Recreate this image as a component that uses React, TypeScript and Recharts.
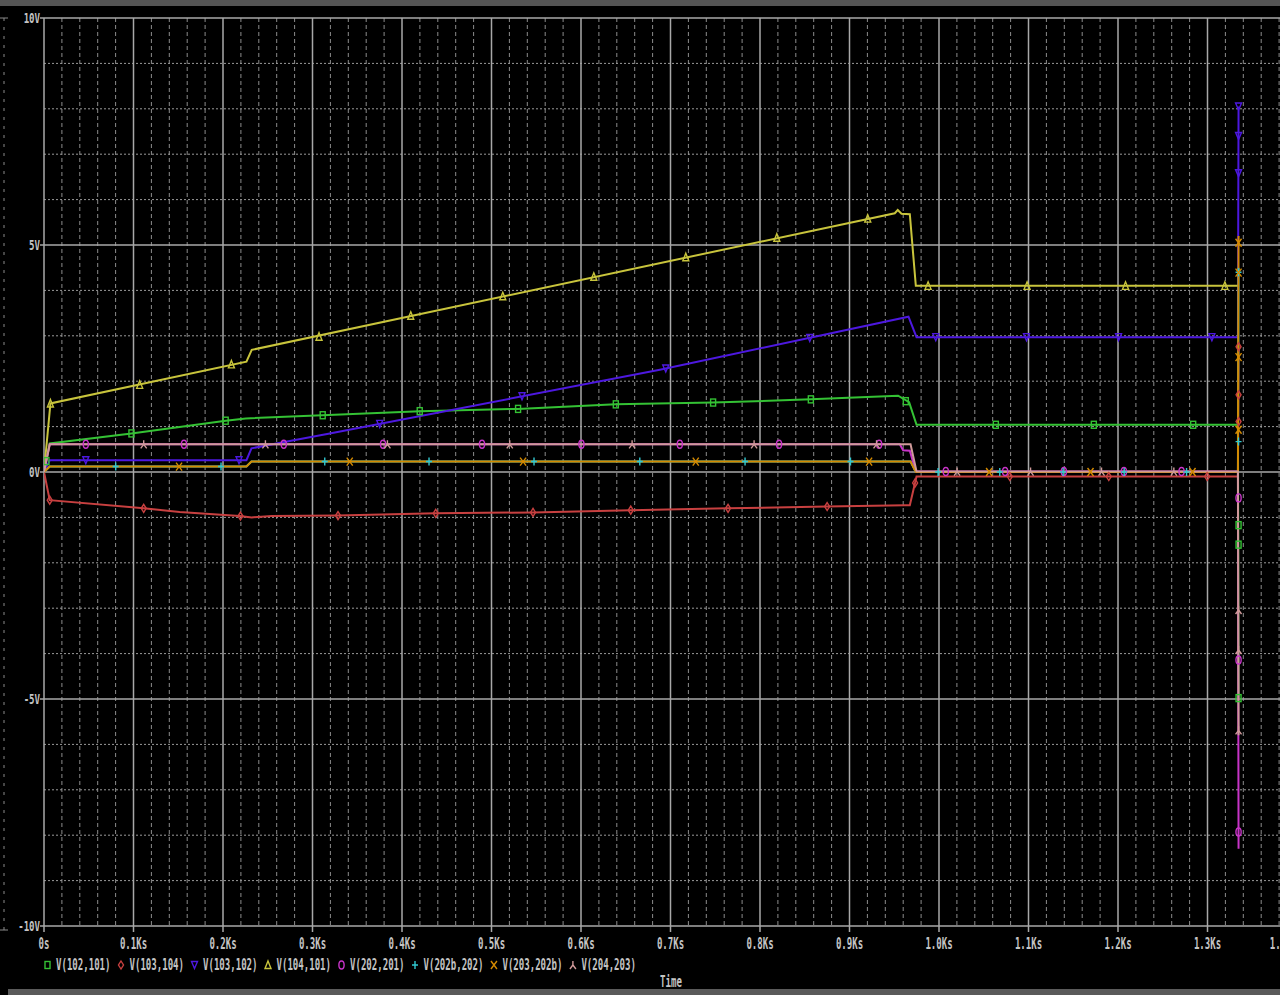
import React from 'react';
import { ComposedChart, Line, Scatter, XAxis, YAxis, CartesianGrid } from 'recharts';

type Pt = [number, number];

// time in seconds, voltage in volts
const v102_101: Pt[] = [[0, 0], [6.4, 0.63], [97.7, 0.85], [203.0, 1.13], [225.4, 1.18], [324.8, 1.26], [419.8, 1.34], [529.3, 1.39], [638.9, 1.49], [747.2, 1.53], [856.8, 1.6], [954.3, 1.68], [966.6, 1.54], [974.9, 1.04], [1334.0, 1.04], [1334.7, -5.0]];
const m102_101: Pt[] = [[2.7, 0.24], [97.7, 0.85], [203.0, 1.13], [311.4, 1.25], [419.8, 1.34], [529.7, 1.39], [638.9, 1.49], [747.6, 1.53], [856.8, 1.6], [962.9, 1.56], [1063.5, 1.04], [1173.0, 1.04], [1284.0, 1.04], [1334.7, -1.17], [1334.7, -1.6], [1334.7, -4.98]];

const v103_104: Pt[] = [[0, 0], [6.4, -0.62], [111.4, -0.8], [151.6, -0.88], [218.7, -0.97], [232.1, -1.0], [254.5, -0.97], [328.2, -0.96], [437.7, -0.91], [546.1, -0.89], [655.6, -0.84], [764.0, -0.8], [874.6, -0.76], [961.8, -0.73], [967.4, -0.73], [974.9, -0.1], [1334.0, -0.1], [1334.7, 2.8]];
const m103_104: Pt[] = [[6.4, -0.62], [111.4, -0.8], [219.5, -0.97], [328.5, -0.96], [437.7, -0.91], [546.4, -0.89], [655.6, -0.84], [764.3, -0.8], [875.0, -0.76], [973.3, -0.24], [1079.1, -0.1], [1189.7, -0.1], [1299.6, -0.1], [1334.7, 2.76], [1334.7, 1.7], [1334.7, 1.11]];

const v103_102: Pt[] = [[0, 0], [6.4, 0.26], [226.2, 0.26], [231.8, 0.52], [259.7, 0.63], [319.3, 0.85], [688.1, 2.25], [965.9, 3.42], [974.9, 2.97], [1334.0, 2.97], [1334.7, 8.05]];
const m103_102: Pt[] = [[46.7, 0.26], [217.9, 0.26], [375.1, 1.06], [534.1, 1.67], [694.7, 2.28], [855.6, 2.95], [996.4, 2.97], [1097.8, 2.97], [1200.6, 2.97], [1304.9, 2.97], [1334.7, 8.05], [1334.7, 7.4], [1334.7, 6.58]];

const v104_101: Pt[] = [[0, 0], [7.2, 1.51], [226.2, 2.43], [232.1, 2.69], [950.6, 5.7], [953.9, 5.77], [958.1, 5.69], [967.4, 5.68], [974.1, 4.1], [1334.7, 4.1]];
const m104_101: Pt[] = [[7.2, 1.51], [106.9, 1.92], [209.4, 2.37], [307.3, 2.98], [409.8, 3.44], [512.6, 3.87], [614.3, 4.3], [717.1, 4.73], [818.8, 5.16], [920.4, 5.58], [987.8, 4.1], [1098.4, 4.1], [1208.4, 4.1], [1319.4, 4.1]];

const v202_201: Pt[] = [[0, 0], [6.4, 0.61], [956.2, 0.61], [959.9, 0.48], [967.4, 0.47], [974.1, 0.01], [1334.0, 0.01], [1334.7, -8.3]];
const m202_201: Pt[] = [[46.7, 0.61], [156.4, 0.61], [267.9, 0.61], [378.8, 0.61], [489.4, 0.61], [600.5, 0.61], [710.4, 0.61], [821.3, 0.61], [933.1, 0.61], [1007.6, 0.01], [1073.9, 0.01], [1139.5, 0.01], [1206.6, 0.01], [1271.0, 0.01], [1334.7, -0.57], [1334.7, -4.14], [1334.7, -7.93]];

const v202b_202: Pt[] = [[0, 0], [6.4, 0.12], [226.2, 0.12], [231.8, 0.23], [968.2, 0.23], [974.1, 0.0], [1334.0, 0.0], [1334.7, 4.5]];
const m202b_202: Pt[] = [[80.1, 0.12], [197.8, 0.12], [313.7, 0.23], [430.2, 0.23], [547.5, 0.23], [665.7, 0.23], [783.3, 0.23], [901.1, 0.23], [999.0, 0.0], [1067.9, 0.0], [1138.7, 0.0], [1206.9, 0.0], [1276.6, 0.0], [1334.7, 4.4], [1334.7, 0.67]];

const v203_202b: Pt[] = [[0, 0], [6.4, 0.12], [226.2, 0.12], [231.8, 0.23], [968.2, 0.23], [974.1, 0.0], [1334.0, 0.0], [1334.7, 5.2]];
const m203_202b: Pt[] = [[150.9, 0.12], [341.6, 0.23], [535.3, 0.23], [728.2, 0.23], [921.9, 0.23], [1056.0, 0.0], [1169.3, 0.0], [1283.3, 0.0], [1334.7, 5.05], [1334.7, 4.39], [1334.7, 2.53], [1334.7, 0.93]];

const v204_203: Pt[] = [[0, 0], [6.4, 0.61], [968.2, 0.61], [974.9, 0.01], [1334.0, 0.01], [1334.7, -5.8]];
const m204_203: Pt[] = [[111.4, 0.61], [247.4, 0.61], [383.7, 0.61], [520.4, 0.61], [657.1, 0.61], [793.4, 0.61], [930.2, 0.61], [1020.2, 0.01], [1102.3, 0.01], [1181.6, 0.01], [1262.4, 0.01], [1334.7, -3.04], [1334.7, -3.92], [1334.7, -5.69]];

const xTicks = [0, 100, 200, 300, 400, 500, 600, 700, 800, 900, 1000, 1100, 1200, 1300, 1400];
const xLabels = ['0s', '0.1Ks', '0.2Ks', '0.3Ks', '0.4Ks', '0.5Ks', '0.6Ks', '0.7Ks', '0.8Ks', '0.9Ks', '1.0Ks', '1.1Ks', '1.2Ks', '1.3Ks', '1.4Ks'];
const yTicks = [-10, -5, 0, 5, 10];
const yLabels = ['-10V', '-5V', '0V', '5V', '10V'];

type Mark = 'square' | 'diamond' | 'down' | 'up' | 'circle' | 'plus' | 'cross' | 'lambda';

const series: { name: string; color: string; line: Pt[]; marks: Pt[]; mark: Mark }[] = [
  { name: 'V(102,101)', color: '#34c234', line: v102_101, marks: m102_101, mark: 'square' },
  { name: 'V(103,104)', color: '#c84040', line: v103_104, marks: m103_104, mark: 'diamond' },
  { name: 'V(103,102)', color: '#4d18e0', line: v103_102, marks: m103_102, mark: 'down' },
  { name: 'V(104,101)', color: '#c8c43c', line: v104_101, marks: m104_101, mark: 'up' },
  { name: 'V(202,201)', color: '#c834c8', line: v202_201, marks: m202_201, mark: 'circle' },
  { name: 'V(202b,202)', color: '#30c8d0', line: v202b_202, marks: m202b_202, mark: 'plus' },
  { name: 'V(203,202b)', color: '#d48a00', line: v203_202b, marks: m203_202b, mark: 'cross' },
  { name: 'V(204,203)', color: '#d09a9a', line: v204_203, marks: m204_203, mark: 'lambda' },
];

const toRows = (pts: Pt[]) => pts.map(([t, v]) => ({ t, v }));

// minor grid every 20s / 1V, major every 100s / 5V
const minorX: number[] = [];
for (let t = 20; t < 1400; t += 20) if (t % 100 !== 0) minorX.push(t);
const minorY: number[] = [];
for (let v = -9; v <= 9; v++) if (v % 5 !== 0) minorY.push(v);

const FONT = "'DejaVu Sans Mono', monospace";
const TXT = '#c4c4c4';
const CW = 5.45; // char width of the narrow plot font

// tall, narrow text: monospace squeezed horizontally
const PText = ({ x, y, size = 15, anchor = 'start', children }: { x: number; y: number; size?: number; anchor?: string; children: string }) => (
  <text transform={`translate(${x},${y}) scale(${(CW / (0.602 * size)).toFixed(3)},1)`} textAnchor={anchor as any}
    fill={TXT} fontFamily={FONT} fontSize={size} fontWeight="bold">{children}</text>
);

function drawMark(kind: Mark, cx: number, cy: number, color: string, key?: string) {
  const p = { stroke: color, strokeWidth: 1.4, fill: 'none' };
  switch (kind) {
    case 'square':
      return <rect key={key} x={cx - 2.5} y={cy - 3.5} width={5} height={7} {...p} />;
    case 'diamond':
      return <polygon key={key} points={`${cx},${cy - 4} ${cx + 2.5},${cy} ${cx},${cy + 4} ${cx - 2.5},${cy}`} {...p} />;
    case 'down':
      return <polygon key={key} points={`${cx - 3},${cy - 3.5} ${cx + 3},${cy - 3.5} ${cx},${cy + 3.5}`} {...p} />;
    case 'up':
      return <polygon key={key} points={`${cx},${cy - 4} ${cx + 3},${cy + 3.5} ${cx - 3},${cy + 3.5}`} {...p} />;
    case 'circle':
      return <ellipse key={key} cx={cx} cy={cy} rx={2.6} ry={4} {...p} />;
    case 'plus':
      return <path key={key} d={`M${cx - 3},${cy}H${cx + 3}M${cx},${cy - 4}V${cy + 4}`} {...p} />;
    case 'cross':
      return <path key={key} d={`M${cx - 3},${cy - 4}L${cx + 3},${cy + 4}M${cx + 3},${cy - 4}L${cx - 3},${cy + 4}`} {...p} />;
    default:
      return <path key={key} d={`M${cx},${cy - 4}V${cy}M${cx},${cy}L${cx - 3},${cy + 4}M${cx},${cy}L${cx + 3},${cy + 4}`} {...p} />;
  }
}

const XTick = (props: any) => {
  const { x, y, payload, index } = props;
  const label = xLabels[xTicks.indexOf(payload.value)] ?? '';
  const last = index === xTicks.length - 1;
  return <PText x={x} y={y + 15} anchor={last ? 'end' : 'middle'}>{label}</PText>;
};

const YTick = (props: any) => {
  const { x, y, payload } = props;
  const label = yLabels[yTicks.indexOf(payload.value)] ?? '';
  return <PText x={x + 2} y={y + 5} size={14} anchor="end">{label}</PText>;
};

const LegendRow = () => {
  let x = 45;
  const items = series.map((s) => {
    const ix = x;
    const tx = x + 11;
    x = tx + s.name.length * CW + 8;
    return (
      <g key={s.name}>
        {drawMark(s.mark, ix + 2.5, 965, s.color)}
        <PText x={tx} y={970}>{s.name}</PText>
      </g>
    );
  });
  return (
    <svg width={1280} height={995} style={{ position: 'absolute', left: 0, top: 0, pointerEvents: 'none' }}>
      <rect x={0} y={0} width={1280} height={6} fill="#555" />
      <rect x={8} y={989} width={1272} height={6} fill="#5a5a5a" />
      <line x1={4} y1={18} x2={4} y2={930} stroke="#8a8a8a" strokeDasharray="3 6" />
      <line x1={0} y1={18} x2={8} y2={18} stroke="#8a8a8a" />
      <line x1={0} y1={930} x2={8} y2={930} stroke="#8a8a8a" />
      {items}
      <PText x={671} y={987} anchor="middle">Time</PText>
    </svg>
  );
};

export default function App() {
  return (
    <div style={{ position: 'absolute', left: 0, top: 0, width: 1280, height: 995, overflow: 'hidden', background: '#000' }}>
      <ComposedChart width={1297} height={995} margin={{ top: 18, right: 0, bottom: 0, left: 0 }}>
        <CartesianGrid horizontal={false} verticalValues={minorX} stroke="#8c8c8c" strokeDasharray="4 3" />
        <CartesianGrid vertical={false} horizontalValues={minorY} stroke="#9a9a9a" strokeDasharray="2 2" />
        <CartesianGrid verticalValues={xTicks} horizontalValues={yTicks} stroke="#a8a8a8" strokeWidth={1.5} />
        <XAxis type="number" dataKey="t" domain={[0, 1400]} ticks={xTicks} allowDataOverflow height={69}
          axisLine={false} tickSize={6} tickLine={{ stroke: '#a8a8a8', strokeWidth: 1.5 }} tick={<XTick />} interval={0} />
        <YAxis type="number" dataKey="v" domain={[-10, 10]} ticks={yTicks} allowDataOverflow width={44}
          axisLine={false} tickSize={4} tickLine={{ stroke: '#a8a8a8', strokeWidth: 1.5 }} tick={<YTick />} interval={0} />
        {series.flatMap((s) => [
          <Line key={`l-${s.name}`} data={toRows(s.line)} dataKey="v" type="linear" stroke={s.color} strokeWidth={2}
            dot={false} activeDot={false} isAnimationActive={false} />,
          <Scatter key={`s-${s.name}`} data={toRows(s.marks)} dataKey="v" isAnimationActive={false}
            shape={(p: any) => drawMark(s.mark, p.cx, p.cy, s.color)} />,
        ])}
      </ComposedChart>
      <LegendRow />
    </div>
  );
}
